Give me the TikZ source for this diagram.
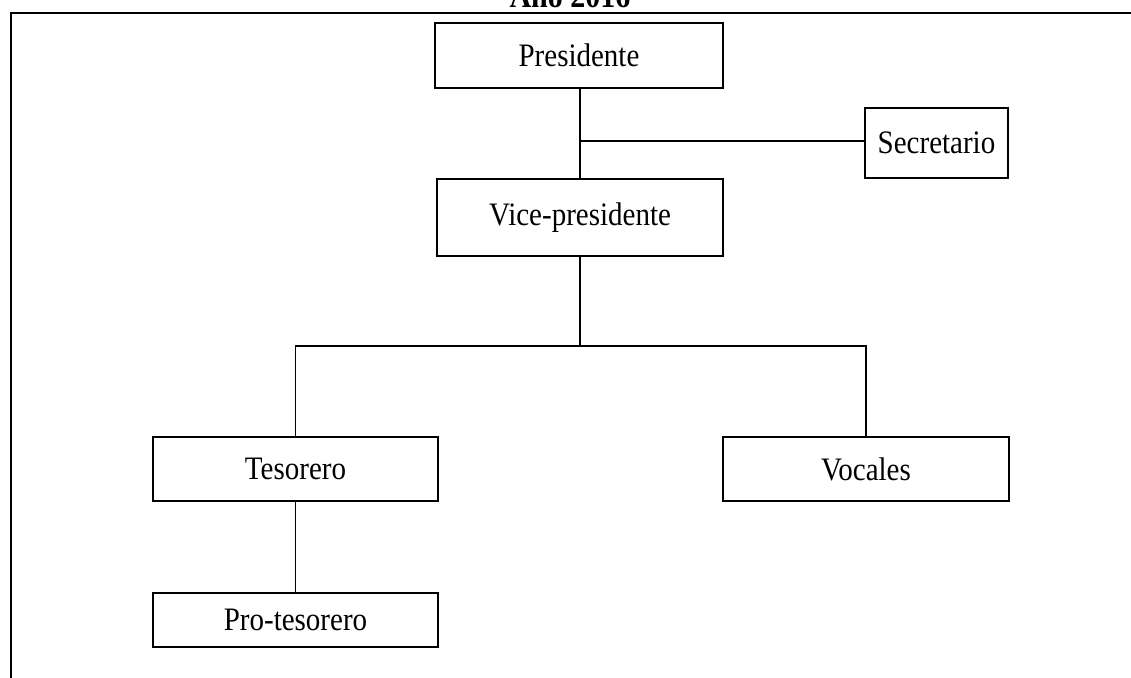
\documentclass[tikz,border=0pt]{standalone}
\usepackage{fontspec}
\setmainfont{Liberation Serif}
\newcommand{\tallt}[1]{\scalebox{1}[1.13]{#1}}
\begin{document}
\begin{tikzpicture}[x=1pt,y=-1pt,
  orgbox/.style={draw,line width=1.4pt,rectangle,inner sep=0pt,align=center,
    font=\fontsize{29}{34}\selectfont},
  conn/.style={line width=1.4pt}]
\useasboundingbox (0,0) rectangle (1131,677);
\clip (0,0) rectangle (1131,677);
\draw[line width=2pt] (11,13) rectangle (1145,700);
\node[anchor=base,font=\bfseries\fontsize{30}{34}\selectfont] (title) at (570,8) {\tallt{Año 2016}};
\node[orgbox,minimum width=288pt,minimum height=65pt] (pres) at (579,55.5) {\tallt{Presidente}};
\node[orgbox,minimum width=286pt,minimum height=77pt] (vice) at (580,217.5) {\tallt{Vice-presidente}};
\node[orgbox,minimum width=143pt,minimum height=70pt] (secr) at (936.5,143) {\tallt{Secretario}};
\node[orgbox,minimum width=285pt,minimum height=64pt] (teso) at (295.5,469) {\tallt{Tesorero}};
\node[orgbox,minimum width=286pt,minimum height=64pt] (voca) at (866,469) {\tallt{Vocales}};
\node[orgbox,minimum width=285pt,minimum height=54pt] (prot) at (295.5,620) {\tallt{Pro-tesorero}};
\coordinate (j1) at (580,141);
\coordinate (j2) at (580,346);
\draw[conn] (pres.south -| j1) -- (vice.north -| j1);
\draw[conn] (j1) -- (secr.west |- j1);
\draw[conn] (vice.south -| j2) -- (j2);
\draw[conn] (j2) -| (teso.north);
\draw[conn] (j2) -| (voca.north);
\draw[conn] (teso.south) -- (prot.north);
\end{tikzpicture}
\end{document}
